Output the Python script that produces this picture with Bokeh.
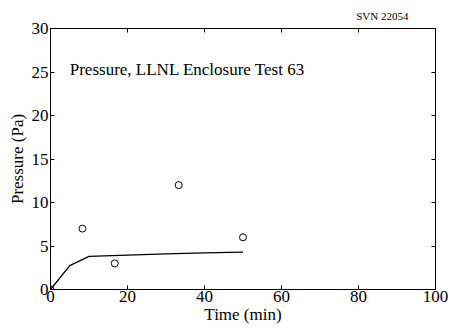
from bokeh.plotting import figure
from bokeh.models import LinearAxis, Range1d, FixedTicker, Label, CustomLabelingPolicy, Title
from bokeh.embed import file_html
from bokeh.resources import INLINE

# Data
obs_time = [0, 8.3, 16.7, 33.3, 50]
obs_pressure = [0, 7, 3, 12, 6]
model_time = [0, 5, 10, 20, 30, 40, 50]
model_pressure = [0, 2.75, 3.8, 3.95, 4.1, 4.2, 4.3]
x_ticks = [0, 20, 40, 60, 80, 100]
y_ticks = [0, 5, 10, 15, 20, 25, 30]
title_text = "Pressure, LLNL Enclosure Test 63"
tag_text = "SVN 22054"
x_label = "Time (min)"
y_label = "Pressure (Pa)"

FONT = "Liberation Serif"

p = figure(width=450, height=329,
           x_range=Range1d(0, 100), y_range=Range1d(0, 30),
           output_backend="svg", toolbar_location=None,
           min_border_left=50, min_border_right=15,
           min_border_top=28, min_border_bottom=40,
           x_axis_label=x_label, y_axis_label=y_label)

p.xgrid.visible = False
p.ygrid.visible = False
p.outline_line_color = "black"
p.outline_line_width = 1
p.background_fill_color = "white"
p.border_fill_color = "white"

def style_axis(ax, ticks, show_labels=True):
    ax.ticker = FixedTicker(ticks=ticks)
    ax.major_tick_in = 4
    ax.major_tick_out = 0
    ax.minor_tick_line_color = None
    ax.axis_line_color = "black"
    ax.major_tick_line_color = "black"
    ax.major_label_text_font = FONT
    ax.major_label_text_font_size = "17px"
    ax.major_label_text_color = "black"
    ax.major_label_standoff = 2
    ax.axis_label_text_font = FONT
    ax.axis_label_text_font_size = "17px"
    ax.axis_label_text_font_style = "normal"
    ax.axis_label_text_color = "black"
    ax.axis_label_standoff = 3
    if not show_labels:
        ax.major_label_policy = CustomLabelingPolicy(code="return []")
        ax.major_label_standoff = 0
        ax.major_label_text_font_size = "2px"

style_axis(p.xaxis[0], x_ticks)
p.xaxis[0].major_label_standoff = 1
p.xaxis[0].axis_label_standoff = 0
style_axis(p.yaxis[0], y_ticks)
p.yaxis[0].axis_label_standoff = 2

top_axis = LinearAxis()
style_axis(top_axis, x_ticks, show_labels=False)
p.add_layout(top_axis, "above")
right_axis = LinearAxis()
style_axis(right_axis, y_ticks, show_labels=False)
p.add_layout(right_axis, "right")

p.add_layout(Title(text=tag_text, align="right", offset=27, standoff=5,
                   text_font=FONT, text_font_size="11px",
                   text_font_style="normal", text_color="black"), "above")

p.line(model_time, model_pressure, line_color="black", line_width=1.3)
p.scatter(obs_time, obs_pressure, marker="circle", size=7,
          fill_color=None, line_color="black", line_width=1)

p.add_layout(Label(x=5.0, y=25.3, text=title_text, text_font=FONT,
                   text_font_size="17px", text_color="black",
                   text_baseline="alphabetic"))

open("out.html", "w").write(file_html(p, INLINE))
